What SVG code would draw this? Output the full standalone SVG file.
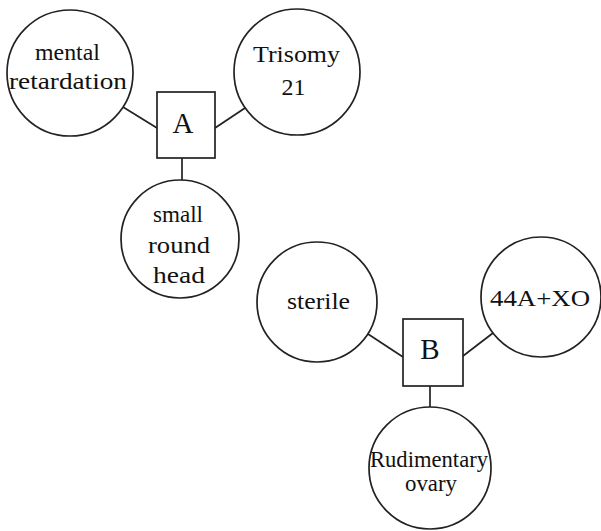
<svg xmlns="http://www.w3.org/2000/svg" width="601" height="531" viewBox="0 0 601 531">
<style>
.n{fill:#fff;stroke:#222;stroke-width:1.7}
.c{stroke:#222;stroke-width:1.7;fill:none}
text{font-family:"Liberation Serif","Times New Roman",serif;font-size:24px;fill:#111;text-anchor:middle}
.big{font-size:29px}
</style>
<rect width="601" height="531" fill="#fff"/>
<g id="connectors">
<line class="c" x1="123" y1="107" x2="157" y2="128"/>
<line class="c" x1="215" y1="128" x2="245" y2="108"/>
<line class="c" x1="182" y1="158" x2="182" y2="180"/>
<line class="c" x1="368" y1="334" x2="403" y2="357"/>
<line class="c" x1="463" y1="356" x2="493" y2="333"/>
<line class="c" x1="430" y1="386" x2="430" y2="407"/>
</g>
<g id="mental">
<circle class="n" cx="70" cy="73" r="63"/>
<text x="67.5" y="60" textLength="65" lengthAdjust="spacingAndGlyphs">mental</text>
<text x="68" y="89" textLength="118" lengthAdjust="spacingAndGlyphs">retardation</text>
</g>
<g id="trisomy">
<circle class="n" cx="297" cy="72" r="63"/>
<text x="296.5" y="62" textLength="87" lengthAdjust="spacingAndGlyphs">Trisomy</text>
<text x="293.5" y="95">21</text>
</g>
<g id="A">
<rect class="n" x="157" y="92" width="58" height="66"/>
<text class="big" x="183" y="133">A</text>
</g>
<g id="head">
<circle class="n" cx="180" cy="239" r="59"/>
<text x="178" y="222" textLength="50" lengthAdjust="spacingAndGlyphs">small</text>
<text x="179" y="253" textLength="62" lengthAdjust="spacingAndGlyphs">round</text>
<text x="179" y="283" textLength="52" lengthAdjust="spacingAndGlyphs">head</text>
</g>
<g id="sterile">
<circle class="n" cx="317" cy="302" r="60"/>
<text x="318.5" y="309" textLength="63" lengthAdjust="spacingAndGlyphs">sterile</text>
</g>
<g id="xo">
<circle class="n" cx="541" cy="297" r="60"/>
<text x="540" y="306" textLength="100" lengthAdjust="spacingAndGlyphs">44A+XO</text>
</g>
<g id="B">
<rect class="n" x="403" y="319" width="60" height="67"/>
<text class="big" x="430" y="359">B</text>
</g>
<g id="ovary">
<circle class="n" cx="430" cy="468" r="61"/>
<text x="429" y="467" textLength="118" lengthAdjust="spacingAndGlyphs">Rudimentary</text>
<text x="431" y="491" textLength="52" lengthAdjust="spacingAndGlyphs">ovary</text>
</g>
</svg>
